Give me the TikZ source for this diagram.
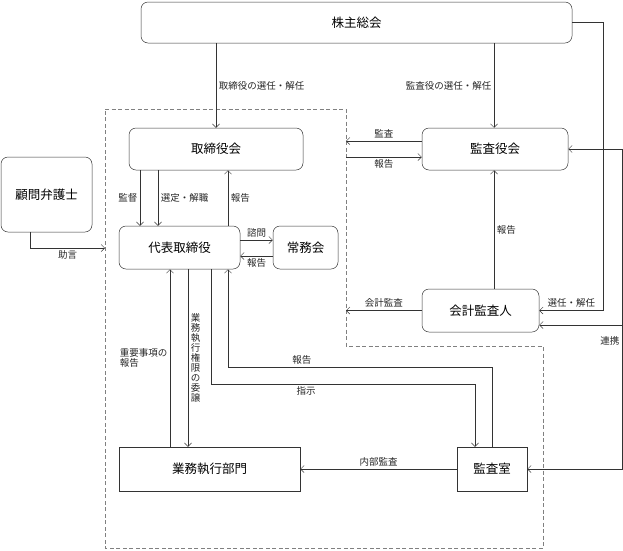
\documentclass[tikz,border=0pt]{standalone}
\usepackage{fontspec}
\setmainfont{Noto Sans CJK JP}
\usepackage{tikz}
\usetikzlibrary{arrows.meta}

\begin{document}
\begin{tikzpicture}[x=1pt, y=-1pt, line width=0.5pt, draw=black!80,
  >={Straight Barb[length=3.5pt, width=7pt]},
  box/.style={draw=black!80, rounded corners=7pt, inner sep=0pt, minimum height=42pt, font=\fontsize{12.5}{14}\selectfont},
  sbox/.style={box, sharp corners},
  lbl/.style={font=\fontsize{9.5}{10}\selectfont, inner sep=2.5pt, text=black!85}]

  \useasboundingbox (0,0) rectangle (623,550);

  %% dashed area
  \draw[gray, dash pattern=on 4pt off 2.5pt] (105,109) -- (346,109) -- (346,346) -- (543,346) -- (543,548) -- (105,548) -- cycle;

  \node[box, minimum width=431pt, minimum height=41pt] (kabunushi) at (356.5,22.5) {株主総会};
  \node[box, minimum width=174pt] (torishimariyakukai) at (216,149) {取締役会};
  \node[box, minimum width=146pt] (kansayakukai) at (495,149) {監査役会};
  \node[box, minimum width=91pt, minimum height=75pt] (komon) at (46.5,194.5) {顧問弁護士};
  \node[box, minimum width=121pt, minimum height=43pt] (daihyo) at (179.5,247.5) {代表取締役};
  \node[box, minimum width=65pt, minimum height=43pt] (jomukai) at (305.5,247.5) {常務会};
  \node[box, minimum width=117pt, minimum height=43pt] (kaikei) at (480.5,310.5) {会計監査人};
  \node[sbox, minimum width=181pt, minimum height=44pt] (gyomu) at (209.5,469) {業務執行部門};
  \node[sbox, minimum width=70pt, minimum height=44pt] (kansashitsu) at (492,469) {監査室};

  \coordinate (kansaend) at (346,141);
  \coordinate (hokokustart) at (346,157);
  \coordinate (kaikeiend) at (346,310.5);
  \coordinate (jogenend) at (105,248);
  \coordinate (renkeitop) at (622,149);
  \coordinate (renkeibot) at (622,469);
  \coordinate (renkeimid) at (622,325);

  \draw[->] (kabunushi.south -| torishimariyakukai.north) -- (torishimariyakukai.north) node[midway, right, lbl]{取締役の選任・解任}; % kabu->torishimari
  \draw[->] ([xshift=-1pt]kabunushi.south -| kansayakukai.north) -- ([xshift=-1pt]kansayakukai.north) node[midway, left, lbl]{監査役の選任・解任}; % kabu->kansa
  \draw[->] (kabunushi.east) -- ++(31,0) |- (kaikei.east) node[pos=0.75, above, lbl]{選任・解任}; % kabu->kaikei

  %% renkei
  \draw[<->] (kansayakukai.east) -- (renkeitop) -- (renkeibot) node[pos=0.6, left, lbl]{連携} -- (kansashitsu.east);
  \draw[->] (renkeimid) -- (renkeimid -| kaikei.east);

  \draw[->] (kansayakukai.west |- kansaend) -- (kansaend) node[midway, above, lbl]{監査};
  \draw[->] (hokokustart) -- (hokokustart -| kansayakukai.west) node[midway, below, lbl]{報告};
  \draw[->] ([xshift=-1pt]kansayakukai.south |- kaikei.north) -- ([xshift=-1pt]kansayakukai.south) node[midway, right, lbl]{報告};
  \draw[->] (kaikei.west) -- (kaikeiend) node[midway, above, lbl]{会計監査};

  \draw[->] ([xshift=-76pt]torishimariyakukai.south) -- ([xshift=-39.5pt]daihyo.north) node[midway, left, lbl]{監督};
  \draw[->] ([xshift=-58pt]torishimariyakukai.south) -- ([xshift=-21.5pt]daihyo.north) node[midway, right, lbl]{選定・解職};
  \draw[<-] ([xshift=12pt]torishimariyakukai.south) -- ([xshift=48.5pt]daihyo.north) node[midway, right, lbl]{報告};
  \draw[->] ([yshift=7.5pt]daihyo.east) -- ([yshift=7.5pt]jomukai.west) node[midway, above, lbl]{諮問};
  \draw[<-] ([yshift=-8.5pt]daihyo.east) -- ([yshift=-8.5pt]jomukai.west) node[midway, below, lbl]{報告};

  \draw[->] ([xshift=-16.5pt]komon.south) |- (jogenend) node[pos=0.75, below, lbl]{助言}; % komon->daihyo

  \draw[<-] ([xshift=-9.5pt]daihyo.south) -- ([xshift=-39.5pt]gyomu.north) node[midway, left, lbl, align=left]{重要事項の\\報告};
  \draw[->] ([xshift=8.5pt]daihyo.south) -- ([xshift=-21.5pt]gyomu.north) node[midway, right, lbl, align=center]{業\\務\\執\\行\\権\\限\\の\\委\\譲};
  \draw[->] ([xshift=31.5pt]daihyo.south) -- ++(0,115) -| ([xshift=-17pt]kansashitsu.north) node[pos=0.18, below, lbl]{指示};
  \draw[->] (kansashitsu.north) -- ++(0,-80) -| ([xshift=48.5pt]daihyo.south) node[pos=0.36, above, lbl]{報告};
  \draw[->] (kansashitsu.west) -- (gyomu.east) node[midway, above, lbl]{内部監査};

\end{tikzpicture}
\end{document}
